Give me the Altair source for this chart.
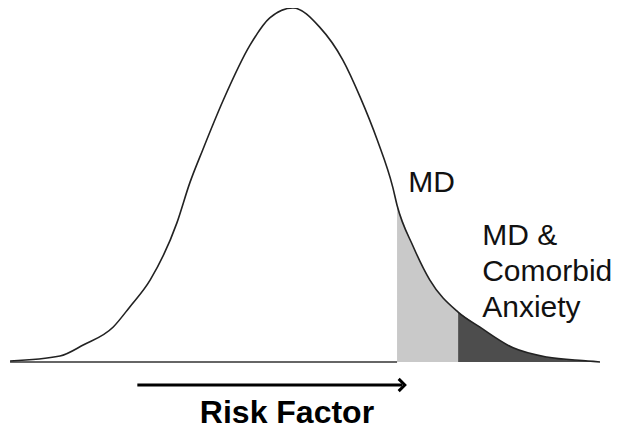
import altair as alt
import pandas as pd

# Risk factor (z units) and relative density
risk = [-3.29, -2.71, -2.44, -2.09, -1.90, -1.66, -1.35, -1.20, -1.05, -0.81, -0.50, -0.27, 0.00,
        0.31, 0.58, 0.78, 0.98, 1.16, 1.21, 1.40, 1.59, 1.92, 2.17, 2.56, 2.95, 3.43, 3.57]
density = [0.003, 0.017, 0.048, 0.099, 0.155, 0.232, 0.393, 0.506, 0.599, 0.740, 0.895, 0.972, 1.000,
           0.946, 0.853, 0.749, 0.627, 0.494, 0.443, 0.325, 0.232, 0.141, 0.099, 0.040, 0.014, 0.003, 0.0]

md_cut = 1.21        # start of MD region
anx_cut = 1.92       # start of MD & comorbid anxiety region

df = pd.DataFrame({"risk": risk, "density": density})
df["zero"] = 0.0
md_df = df[(df.risk >= md_cut) & (df.risk <= anx_cut)]
anx_df = df[df.risk >= anx_cut]

W, H = 608, 422
xs = alt.Scale(domain=[-3.314, 3.756], nice=False, zero=False)
ys = alt.Scale(domain=[1 - H / 354, 1.0], nice=False, zero=False)
X = lambda f: alt.X(f, type="quantitative", scale=xs, axis=None)
Y = lambda f: alt.Y(f, type="quantitative", scale=ys, axis=None)

md_area = alt.Chart(md_df).mark_area(color="#c9c9c9", interpolate="monotone").encode(
    x=X("risk"), y=Y("density"), y2="zero")
anx_area = alt.Chart(anx_df).mark_area(color="#4d4d4d", interpolate="monotone").encode(
    x=X("risk"), y=Y("density"), y2="zero")

baseline = alt.Chart(pd.DataFrame({"a": [risk[0]], "b": [md_cut], "y": [0.0]})).mark_rule(
    color="#333", strokeWidth=1.5).encode(x=X("a"), x2="b", y=Y("y"))

curve = alt.Chart(df).mark_line(color="#222", strokeWidth=1.6, interpolate="monotone").encode(
    x=X("risk"), y=Y("density"))

arrow_line = alt.Chart(pd.DataFrame({"a": [-1.81], "b": [1.27], "y": [-0.065]})).mark_rule(
    color="black", strokeWidth=3).encode(x=X("a"), x2="b", y=Y("y"))
arrow_head = alt.Chart(pd.DataFrame({"a": [1.30], "y": [-0.065]})).mark_point(
    shape="M-1,-1L0,0L-1,1", filled=False, color="black", strokeWidth=3, size=150, opacity=1
).encode(x=X("a"), y=Y("y"))

title = alt.Chart(pd.DataFrame({"t": ["Risk Factor"], "x": [-0.07], "y": [-0.172]})).mark_text(
    font="Liberation Sans", fontWeight="bold", fontSize=32, color="black",
    align="center", baseline="alphabetic").encode(x=X("x"), y=Y("y"), text="t")

md_label = alt.Chart(pd.DataFrame({"t": ["MD"], "x": [1.34], "y": [0.48]})).mark_text(
    font="Liberation Sans", fontSize=30, color="#111", align="left", baseline="alphabetic"
).encode(x=X("x"), y=Y("y"), text="t")

anx_lines = ["MD &", "Comorbid", "Anxiety"]
anx_label = alt.Chart(pd.DataFrame({"t": anx_lines, "x": [2.20] * 3,
                                    "y": [0.331, 0.229, 0.127]})).mark_text(
    font="Liberation Sans", fontSize=30, color="#111", align="left", baseline="alphabetic"
).encode(x=X("x"), y=Y("y"), text="t")

chart = alt.layer(md_area, anx_area, baseline, curve, arrow_line, arrow_head,
                  title, md_label, anx_label).properties(
    width=W, height=H, padding=0, background="white",
    autosize=alt.AutoSizeParams(type="none")
).configure_view(stroke=None, strokeWidth=0)

chart.save("out.html", embed_options={"renderer": "svg", "actions": False})
